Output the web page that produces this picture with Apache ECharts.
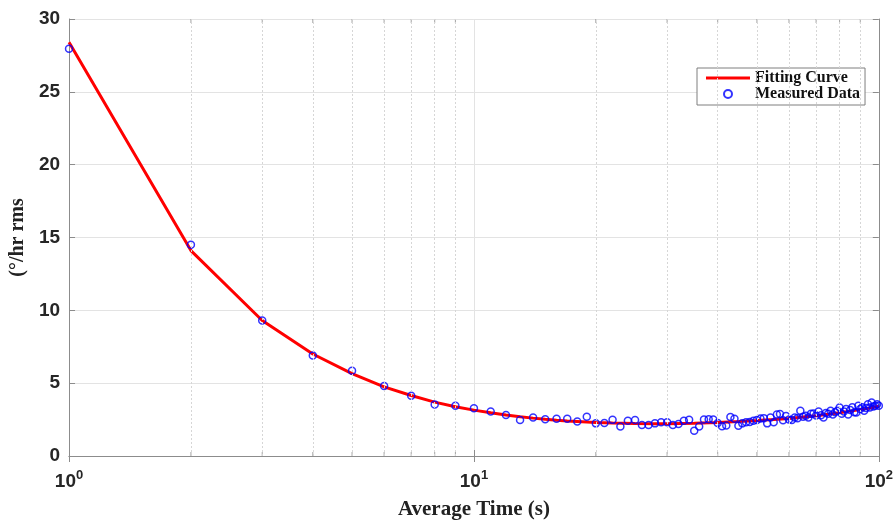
<!DOCTYPE html>
<html>
<head>
<meta charset="utf-8">
<script src="https://cdn.jsdelivr.net/npm/echarts@6/dist/echarts.min.js"></script>
<style>
  html, body { margin: 0; padding: 0; background: #fff; }
  #chart { width: 896px; height: 525px; }
</style>
</head>
<body>
<div id="chart"></div>
<script>
// measured Allan deviation, one point per second of averaging time
var avgTime = [];
for (var i = 1; i <= 100; i++) avgTime.push(i);
var measured = [
  27.95, 14.5, 9.3, 6.9, 5.85, 4.8, 4.13, 3.54, 3.45, 3.27,
  3.06, 2.81, 2.47, 2.65, 2.53, 2.56, 2.56, 2.37, 2.69, 2.24,
  2.26, 2.48, 2.03, 2.42, 2.47, 2.12, 2.12, 2.24, 2.31, 2.31,
  2.12, 2.19, 2.42, 2.49, 1.73, 2.03, 2.5, 2.53, 2.5, 2.26,
  2.05, 2.1, 2.67, 2.56, 2.08, 2.24, 2.31, 2.33, 2.42, 2.47,
  2.58, 2.6, 2.24, 2.65, 2.31, 2.85, 2.88, 2.45, 2.75, 2.5,
  2.47, 2.65, 2.6, 3.1, 2.7, 2.76, 2.65, 2.9, 2.92, 2.78,
  3.05, 2.8, 2.65, 2.95, 2.9, 3.1, 2.85, 3.0, 3.1, 3.33,
  2.9, 3.05, 3.22, 2.85, 3.15, 3.35, 3.0, 2.99, 3.45, 3.22,
  3.35, 3.1, 3.3, 3.56, 3.33, 3.68, 3.4, 3.45, 3.56, 3.45
];

// fitting curve
var fitTime = [1, 2, 3, 4, 5, 6, 7, 8, 9, 10, 11, 12, 13, 14, 15, 16, 17, 18, 19, 20,
  22, 25, 28, 30, 35, 40, 45, 50, 55, 60, 65, 70, 75, 80, 85, 90, 95, 100];
var fitValue = [28.4, 14.1, 9.3, 7.0, 5.65, 4.75, 4.15, 3.7, 3.38, 3.15, 2.97, 2.82, 2.7, 2.6,
  2.52, 2.46, 2.41, 2.37, 2.33, 2.3, 2.26, 2.23, 2.22, 2.22, 2.25, 2.3, 2.36, 2.43, 2.5,
  2.58, 2.67, 2.77, 2.87, 2.97, 3.08, 3.19, 3.3, 3.42];

// minor log ticks (2..9 of each decade)
var minorTicks = [2, 3, 4, 5, 6, 7, 8, 9, 20, 30, 40, 50, 60, 70, 80, 90];

var sans = 'Liberation Sans';
var serif = 'Liberation Serif';
var axisGray = '#8c8c8c';
var gridGray = '#e3e3e3';

var chart = echarts.init(document.getElementById('chart'));

var minorTickMarks = [];
minorTicks.forEach(function (t) {
  minorTickMarks.push({ value: [t, 0], symbolOffset: [0, -2] });
  minorTickMarks.push({ value: [t, 30], symbolOffset: [0, 2] });
});

chart.setOption({
  animation: false,
  grid: { left: 66, right: 17, top: 19, bottom: 68 },
  legend: {
    orient: 'vertical',
    left: 697,
    top: 68,
    padding: [2, 5, 3, 9],
    itemGap: 0,
    itemWidth: 44,
    itemHeight: 8,
    backgroundColor: '#fff',
    borderColor: '#7f7f7f',
    borderWidth: 1,
    textStyle: { fontFamily: serif, fontWeight: 'bold', fontSize: 16, lineHeight: 16, color: '#111' },
    data: [
      { name: 'Fitting Curve', icon: 'path://M0,0H44V3H0Z' },
      { name: 'Measured Data' }
    ]
  },
  xAxis: [
    {
      type: 'log',
      logBase: 10,
      min: 1,
      max: 100,
      name: 'Average Time (s)',
      nameLocation: 'middle',
      nameGap: 43,
      nameTextStyle: { fontFamily: serif, fontWeight: 'bold', fontSize: 21, color: '#222' },
      axisLine: { lineStyle: { color: axisGray } },
      axisTick: { inside: true, length: 6, lineStyle: { color: axisGray } },
      splitLine: { show: true, lineStyle: { color: gridGray } },
      axisLabel: {
        margin: 13,
        formatter: function (v) {
          return '{b|10}{s|' + Math.round(Math.log10(v)) + '}';
        },
        rich: {
          b: { fontFamily: sans, fontWeight: 'bold', fontSize: 19, color: '#262626', lineHeight: 26 },
          s: { fontFamily: sans, fontWeight: 'bold', fontSize: 13, color: '#262626', lineHeight: 26, verticalAlign: 'top' }
        }
      }
    },
    {
      type: 'log',
      logBase: 10,
      min: 1,
      max: 100,
      position: 'top',
      axisLine: { show: true, lineStyle: { color: axisGray } },
      axisTick: { show: true, inside: true, length: 6, lineStyle: { color: axisGray } },
      axisLabel: { show: false },
      splitLine: { show: false }
    }
  ],
  yAxis: [
    {
      type: 'value',
      min: 0,
      max: 30,
      interval: 5,
      name: '(°/hr rms',
      nameLocation: 'middle',
      nameGap: 38,
      nameTextStyle: { fontFamily: serif, fontWeight: 'bold', fontSize: 20, color: '#222' },
      axisLine: { show: true, lineStyle: { color: axisGray } },
      axisTick: { show: true, inside: true, length: 6, lineStyle: { color: axisGray } },
      splitLine: { show: true, lineStyle: { color: gridGray } },
      axisLabel: { margin: 9, fontFamily: sans, fontWeight: 'bold', fontSize: 19, color: '#262626' }
    },
    {
      type: 'value',
      min: 0,
      max: 30,
      interval: 5,
      position: 'right',
      axisLine: { show: true, lineStyle: { color: axisGray } },
      axisTick: { show: true, inside: true, length: 6, lineStyle: { color: axisGray } },
      axisLabel: { show: false },
      splitLine: { show: false }
    }
  ],
  series: [
    {
      name: 'minor grid',
      type: 'line',
      data: [],
      z: 1,
      silent: true,
      markLine: {
        silent: true,
        symbol: ['none', 'none'],
        label: { show: false },
        lineStyle: { color: '#d6d6d6', type: [2, 2], width: 1 },
        emphasis: { disabled: true },
        data: minorTicks.map(function (t) { return { xAxis: t }; })
      }
    },
    {
      name: 'minor ticks',
      type: 'scatter',
      silent: true,
      z: 1,
      symbol: 'rect',
      symbolSize: [1, 4],
      itemStyle: { color: axisGray },
      data: minorTickMarks
    },
    {
      name: 'Fitting Curve',
      type: 'line',
      z: 2,
      symbol: 'none',
      lineStyle: { color: '#ff0000', width: 3 },
      itemStyle: { color: '#ff0000' },
      data: fitTime.map(function (t, i) { return [t, fitValue[i]]; })
    },
    {
      name: 'Measured Data',
      type: 'scatter',
      z: 3,
      symbol: 'circle',
      symbolSize: 7,
      itemStyle: { color: 'rgba(0,0,0,0)', borderColor: '#0000ff', borderWidth: 1.5 },
      data: avgTime.map(function (t, i) { return [t, measured[i]]; })
    }
  ]
});
</script>
</body>
</html>
